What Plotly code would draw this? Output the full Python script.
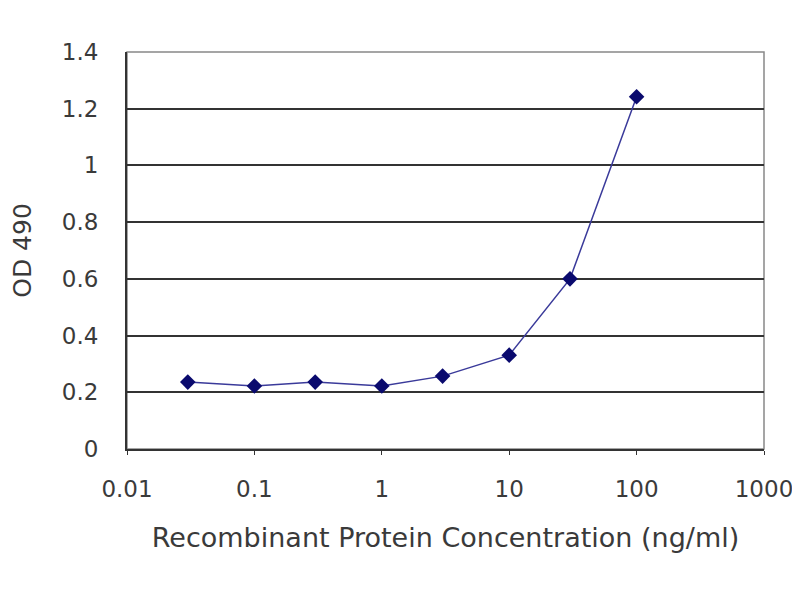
import plotly.graph_objects as go

# concentrations (ng/ml) and OD 490 readings
conc = [0.03, 0.1, 0.3, 1, 3, 10, 30, 100]
od490 = [0.236, 0.222, 0.236, 0.222, 0.257, 0.331, 0.600, 1.242]

x_ticks = [0.01, 0.1, 1, 10, 100, 1000]
x_tick_text = ['0.01', '0.1', '1', '10', '100', '1000']
y_ticks = [0, 0.2, 0.4, 0.6, 0.8, 1, 1.2, 1.4]
y_tick_text = ['0', '0.2', '0.4', '0.6', '0.8', '1', '1.2', '1.4']

fig = go.Figure()
fig.add_trace(go.Scatter(
    x=conc,
    y=od490,
    mode='lines+markers',
    line=dict(color='#3a3a9a', width=1.5),
    marker=dict(symbol='diamond', size=12, color='#0a0a6e'),
    showlegend=False
))

# page body has an 8px offset, so margins are shifted to compensate
fig.update_layout(
    width=800, height=600,
    margin=dict(l=117, r=44, t=44, b=159),
    paper_bgcolor='white',
    plot_bgcolor='white',
    font=dict(family='DejaVu Sans, Arial, sans-serif', color='#3a3a3a'),
    shapes=[dict(type='rect', xref='paper', yref='paper', x0=0, y0=0, x1=1, y1=1,
                 line=dict(color='#888888', width=1.5), layer='below')]
)

fig.update_xaxes(
    type='log', range=[-2, 3],
    tickvals=x_ticks, ticktext=x_tick_text,
    tickfont=dict(size=23),
    ticks='outside', ticklen=4, tickcolor='#333333',
    ticklabelstandoff=14,
    showgrid=False, zeroline=False,
    showline=True, linecolor='#333333', linewidth=2,
    title=dict(text='Recombinant Protein Concentration (ng/ml)', font=dict(size=27), standoff=28)
)
fig.update_yaxes(
    range=[0, 1.4],
    tickvals=y_ticks, ticktext=y_tick_text,
    tickfont=dict(size=23),
    ticks='',
    ticklabelstandoff=22,
    showgrid=True, gridcolor='#333333', gridwidth=2,
    zeroline=False,
    showline=True, linecolor='#333333', linewidth=2,
    title=dict(text='OD 490', font=dict(size=25), standoff=24)
)

fig.write_html("out.html")
